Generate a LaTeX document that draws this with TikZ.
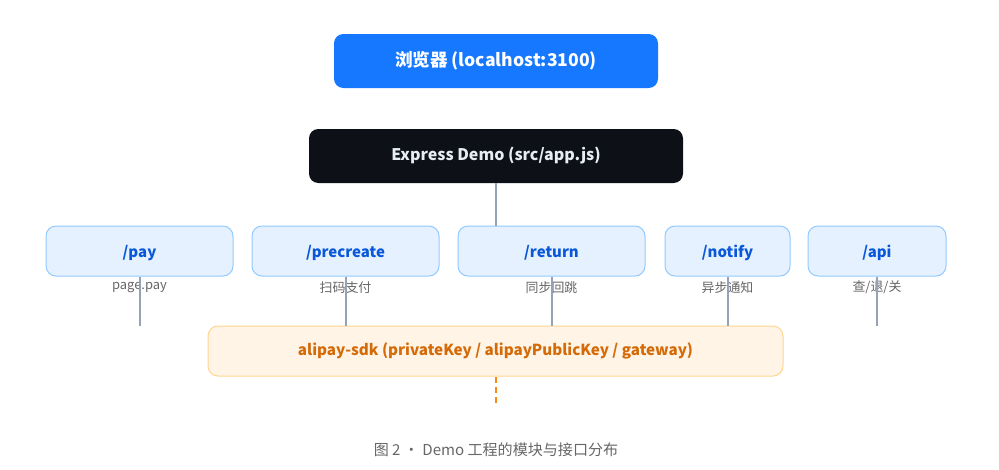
\documentclass[tikz,border=0pt]{standalone}
\usepackage{fontspec}
\setmainfont{Noto Sans CJK SC}
\usetikzlibrary{calc}
\definecolor{mybrowser}{RGB}{22,119,255}
\definecolor{myexpress}{RGB}{13,17,23}
\definecolor{myexpresstext}{RGB}{230,237,243}
\definecolor{myroutefill}{RGB}{230,241,255}
\definecolor{myrouteedge}{RGB}{145,202,255}
\definecolor{myroutetext}{RGB}{9,88,217}
\definecolor{mysdkfill}{RGB}{255,244,230}
\definecolor{mysdkedge}{RGB}{255,213,145}
\definecolor{mysdktext}{RGB}{212,107,8}
\definecolor{mydash}{RGB}{250,140,22}
\definecolor{mywire}{RGB}{148,163,184}
\definecolor{mynote}{RGB}{102,102,102}

\tikzset{
    topbox/.style={rounded corners=7pt, minimum height=40.5pt, font=\fontsize{12}{14}\selectfont\bfseries},
    routebox/.style={draw=myrouteedge, fill=myroutefill, line width=0.75pt, rounded corners=7.5pt,
        minimum height=37.5pt, text=myroutetext, text height=1.15em, text depth=0.25em,
        font=\fontsize{11.25}{13}\selectfont\bfseries},
    note/.style={text=mynote, inner sep=0pt, font=\fontsize{9.7}{11}\selectfont},
    wire/.style={draw=mywire, line width=1.5pt},
}

\begin{document}
\begin{tikzpicture}[x=0.75pt, y=-0.75pt]
    \useasboundingbox (0, 0) rectangle (999, 469);
    \begin{scope}
        % Browser and server
        \node[topbox, fill=mybrowser, text=white, minimum width=243pt, font=\fontsize{13.2}{15}\selectfont\bfseries] (browser) at (496, 61) {浏览器 (localhost:3100)};
        \node[topbox, fill=myexpress, text=myexpresstext, minimum width=280.5pt] (express) at (496, 156) {Express Demo (src/app.js)};
        % Routes
        \node[routebox, minimum width=140.25pt] (pay) at (139.5, 251) {/pay};
        \node[routebox, minimum width=140.25pt] (precreate) at (345.5, 251) {/precreate};
        \node[routebox, minimum width=140.25pt] (return) at (551.5, 251) {/return};
        \node[routebox, minimum width=93.75pt] (notify) at (727.5, 251) {/notify};
        \node[routebox, minimum width=103.5pt] (api) at (877, 251) {/api};
        % Route notes
        \node[note] (paynote) at ([yshift=-8.25pt]pay.south) {page.pay};
        \node[note] (precreatenote) at ([yshift=-8.25pt]precreate.south) {扫码支付};
        \node[note] (returnnote) at ([yshift=-8.25pt]return.south) {同步回跳};
        \node[note] (notifynote) at ([yshift=-8.25pt]notify.south) {异步通知};
        \node[note] (apinote) at ([yshift=-8.25pt]api.south) {查/退/关};
        % SDK
        \node[draw=mysdkedge, fill=mysdkfill, line width=0.75pt, rounded corners=7.5pt,
            minimum width=431.25pt, minimum height=37.5pt, text=mysdktext,
            font=\fontsize{11.4}{13}\selectfont\bfseries] (sdk) at (495.5, 351)
            {alipay-sdk (privateKey / alipayPublicKey / gateway)};
        % Wires
        \draw[wire] (express.south) -- (express.south |- return.north);
        \foreach \r in {pay, precreate, return, notify, api}
            \draw[wire] (\r.south) -- (\r.south |- sdk.north);
        \coordinate (sdkout) at ([yshift=-20.25pt]sdk.south);
        \draw[draw=mydash, line width=1.5pt, dash pattern=on 4.5pt off 3pt] (sdk.south) -- (sdkout);
        % Caption
        \node[text=mynote, font=\fontsize{11.3}{13}\selectfont] (caption) at (496, 450) {图 2 · Demo 工程的模块与接口分布};
    \end{scope}
\end{tikzpicture}
\end{document}
